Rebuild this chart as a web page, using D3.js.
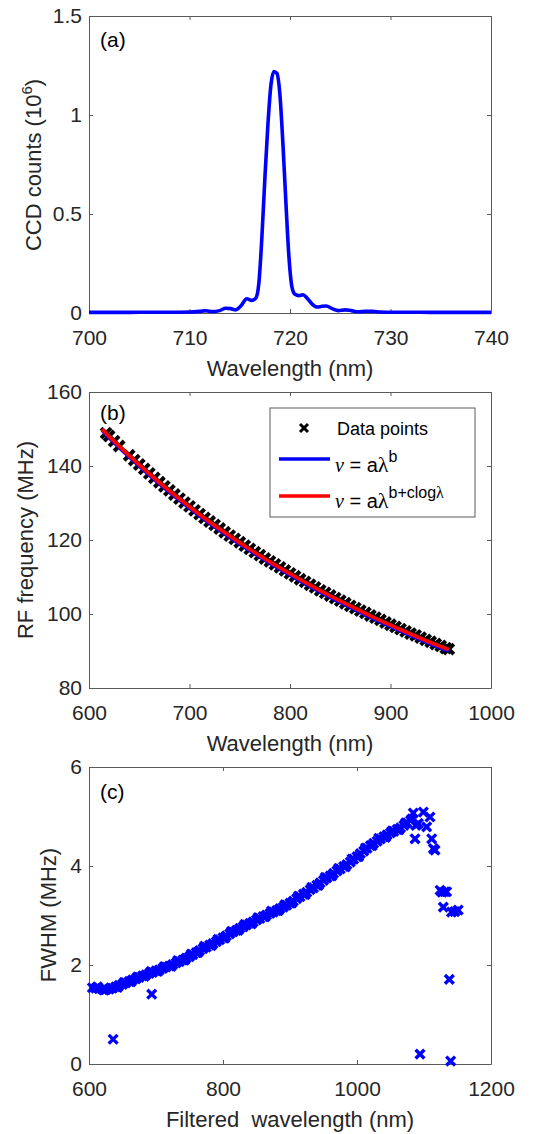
<!DOCTYPE html>
<html>
<head>
<meta charset="utf-8">
<script src="https://cdn.jsdelivr.net/npm/d3@7"></script>
<style>
  body { margin: 0; background: #fff; }
  svg { display: block; font-family: "Liberation Sans", Arial, sans-serif; }
  .axis path, .axis line { stroke: #5a5a5a; stroke-width: 1; }
  .axis text { font-size: 21px; fill: #262626; }
  .label { font-size: 22px; fill: #262626; }
  .tag { font-size: 21px; fill: #000; }
  .legend text { font-size: 18px; fill: #000; }
</style>
</head>
<body>
<svg id="chart" width="544" height="1134"></svg>
<script>
// (a) spectrum
const specWl = [700, 702, 704, 706, 708, 710, 711, 711.6, 712.3, 713, 713.6, 714.1, 714.6, 715.1, 715.7,
  716.2, 716.6, 716.9, 717.2, 717.5, 717.8, 718.1, 718.4, 718.7, 719.0, 719.3, 719.6, 719.9, 720.2,
  720.5, 720.9, 721.3, 721.7, 722.2, 722.7, 723.2, 723.6, 724.2, 724.8, 725.5, 726.1, 726.8, 727.5,
  728.2, 729, 730, 732, 734, 736, 738, 740];
const specCounts = [0.003, 0.003, 0.003, 0.004, 0.004, 0.005, 0.008, 0.011, 0.007, 0.012, 0.024, 0.022, 0.016, 0.035, 0.072,
  0.064, 0.075, 0.15, 0.38, 0.68, 0.95, 1.15, 1.22, 1.21, 1.10, 0.85, 0.55, 0.28, 0.13,
  0.095, 0.088, 0.092, 0.075, 0.045, 0.030, 0.034, 0.035, 0.022, 0.012, 0.016, 0.012, 0.006, 0.008,
  0.008, 0.005, 0.004, 0.004, 0.003, 0.003, 0.003, 0.003];

// (b) RF frequency vs wavelength
const rfWl = [617, 620, 625, 630, 640, 645, 650, 655, 660, 665, 670, 675, 680, 685, 690, 695, 700, 705, 710,
  715, 720, 725, 730, 735, 740, 745, 750, 755, 760, 765, 770, 775, 780, 785, 790, 795, 800, 805, 810,
  815, 820, 825, 830, 835, 840, 845, 850, 855, 860, 865, 870, 875, 880, 885, 890, 895, 900, 905, 910,
  915, 920, 925, 930, 935, 940, 945, 950, 955, 958];
const rfMHz = [148.9, 148.1, 146.7, 145.4, 142.9, 141.6, 140.4, 139.2, 138.0, 136.8, 135.6, 134.5, 133.4, 132.3, 131.2, 130.1, 129.1, 128.0, 127.0,
  126.0, 125.0, 124.1, 123.1, 122.1, 121.2, 120.3, 119.4, 118.5, 117.6, 116.7, 115.9, 115.0, 114.2, 113.4, 112.6, 111.8, 111.0, 110.2, 109.4,
  108.7, 107.9, 107.2, 106.4, 105.7, 105.0, 104.3, 103.6, 102.9, 102.2, 101.6, 100.9, 100.3, 99.6, 99.0, 98.4, 97.7, 97.1, 96.5, 95.9,
  95.3, 94.7, 94.2, 93.6, 93.0, 92.5, 91.9, 91.4, 90.8, 90.5];
const fitWl = [613, 620, 640, 660, 680, 700, 720, 740, 760, 780, 800, 820, 840, 860, 880, 900, 920, 940, 958];
const fitPower = [149.6, 147.5, 142.3, 137.4, 132.8, 128.5, 124.4, 120.6, 117.0, 113.6, 110.4, 107.3, 104.4, 101.7, 99.0, 96.5, 94.1, 91.8, 89.9];
const fitLogPower = [150.0, 148.0, 142.8, 137.9, 133.3, 129.0, 124.9, 121.1, 117.5, 114.1, 110.9, 107.8, 104.9, 102.2, 99.5, 97.0, 94.6, 92.3, 90.4];

// (c) FWHM vs filtered wavelength
const fwWl = [605, 610, 615, 620, 625, 630, 635, 640, 645, 650, 655, 660, 665, 670, 675, 680, 685, 690, 695, 700,
  705, 710, 715, 720, 725, 730, 735, 740, 745, 750, 755, 760, 765, 770, 775, 780, 785, 790, 795, 800,
  805, 810, 815, 820, 825, 830, 835, 840, 845, 850, 855, 860, 865, 870, 875, 880, 885, 890, 895, 900,
  905, 910, 915, 920, 925, 930, 935, 940, 945, 950, 955, 960, 965, 970, 975, 980, 985, 990, 995, 1000,
  1005, 1010, 1015, 1020, 1025, 1030, 1035, 1040, 1045, 1050, 1055, 1060, 1065, 1070, 1075, 1080,
  612.5, 622.5, 632.5, 642.5, 652.5, 662.5, 672.5, 682.5, 692.5, 702.5, 712.5, 722.5, 732.5, 742.5, 752.5, 762.5,
  772.5, 782.5, 792.5, 802.5, 812.5, 822.5, 832.5, 842.5, 852.5, 862.5, 872.5, 882.5, 892.5, 902.5, 912.5, 922.5,
  932.5, 942.5, 952.5, 962.5, 972.5, 982.5, 992.5, 1002.5, 1012.5, 1022.5, 1032.5, 1042.5, 1052.5, 1062.5, 1072.5,
  1082, 1084, 1086.6, 1088, 1091.5, 1099, 1104, 1109, 1111.5, 1114, 1116.4, 1124, 1127, 1128.8, 1131, 1133.8, 1141, 1146, 1151,
  636, 693.6, 1094, 1137.8, 1139.8];
const fwMHz = [1.54, 1.53, 1.52, 1.51, 1.50, 1.51, 1.53, 1.56, 1.59, 1.61, 1.64, 1.67, 1.70, 1.72, 1.75, 1.78, 1.80, 1.83, 1.85, 1.88,
  1.90, 1.93, 1.96, 1.98, 2.01, 2.04, 2.07, 2.10, 2.14, 2.17, 2.21, 2.25, 2.29, 2.33, 2.36, 2.40, 2.43, 2.47, 2.51, 2.55,
  2.59, 2.63, 2.67, 2.70, 2.74, 2.77, 2.81, 2.84, 2.87, 2.91, 2.94, 2.98, 3.01, 3.04, 3.07, 3.10, 3.14, 3.17, 3.21, 3.25,
  3.29, 3.34, 3.38, 3.43, 3.47, 3.52, 3.56, 3.61, 3.66, 3.71, 3.76, 3.80, 3.85, 3.90, 3.94, 3.99, 4.03, 4.08, 4.14, 4.19,
  4.25, 4.30, 4.36, 4.41, 4.46, 4.50, 4.55, 4.59, 4.63, 4.67, 4.70, 4.74, 4.77, 4.82, 4.87, 4.92,
  1.56, 1.49, 1.54, 1.55, 1.65, 1.66, 1.76, 1.77, 1.87, 1.87, 1.97, 1.97, 2.09, 2.10, 2.22, 2.25,
  2.38, 2.39, 2.52, 2.54, 2.68, 2.70, 2.82, 2.83, 2.96, 2.97, 3.09, 3.10, 3.22, 3.25, 3.39, 3.42,
  3.57, 3.61, 3.77, 3.80, 3.95, 3.98, 4.14, 4.19, 4.36, 4.41, 4.56, 4.58, 4.71, 4.73, 4.87,
  4.95, 5.07, 4.55, 4.82, 4.86, 5.09, 4.79, 4.99, 4.55, 4.35, 4.32, 3.51, 3.47, 3.17, 3.48, 3.48, 3.07, 3.08, 3.11,
  0.50, 1.41, 0.20, 1.71, 0.06];

const svg = d3.select('#chart');

// draws box, inward ticks on all four sides, labels on left/bottom
function drawPanel(box, xDomain, yDomain, xTicks, yTicks, yFormat) {
  const x = d3.scaleLinear().domain(xDomain).range([box.left, box.right]);
  const y = d3.scaleLinear().domain(yDomain).range([box.bottom, box.top]);
  const g = svg.append('g');

  g.append('g').attr('class', 'axis')
    .attr('transform', `translate(0,${box.bottom})`)
    .call(d3.axisBottom(x).tickValues(xTicks).tickSizeInner(-4).tickSizeOuter(0).tickPadding(17).tickFormat(d3.format('d')));
  g.append('g').attr('class', 'axis')
    .attr('transform', `translate(0,${box.top})`)
    .call(d3.axisTop(x).tickValues(xTicks).tickSizeInner(-4).tickSizeOuter(0).tickFormat(''));
  g.append('g').attr('class', 'axis')
    .attr('transform', `translate(${box.left},0)`)
    .call(d3.axisLeft(y).tickValues(yTicks).tickSizeInner(-4).tickSizeOuter(0).tickPadding(7).tickFormat(yFormat));
  g.append('g').attr('class', 'axis')
    .attr('transform', `translate(${box.right},0)`)
    .call(d3.axisRight(y).tickValues(yTicks).tickSizeInner(-4).tickSizeOuter(0).tickFormat(''));

  g.selectAll('.axis text').attr('font-family', null);
  return { x, y, g };
}

function crosses(g, xs, ys, x, y, color, r, w) {
  g.append('g').selectAll('path')
    .data(xs.map((d, i) => [d, ys[i]]))
    .join('path')
    .attr('d', d => {
      const cx = x(d[0]), cy = y(d[1]);
      return `M${cx - r},${cy - r}L${cx + r},${cy + r}M${cx - r},${cy + r}L${cx + r},${cy - r}`;
    })
    .attr('stroke', color)
    .attr('stroke-width', w)
    .attr('fill', 'none');
}

function yLabel(x, y, parts) {
  const t = svg.append('text').attr('class', 'label')
    .attr('text-anchor', 'middle')
    .attr('transform', `translate(${x},${y}) rotate(-90)`);
  parts(t);
}

// ---------- panel (a)
const boxA = { left: 89, right: 491, top: 16, bottom: 313 };
const pA = drawPanel(boxA, [700, 740], [0, 1.5], [700, 710, 720, 730, 740], [0, 0.5, 1, 1.5], d => String(d));
pA.g.append('path')
  .datum(specWl.map((d, i) => [d, specCounts[i]]))
  .attr('fill', 'none')
  .attr('stroke', '#0000ff')
  .attr('stroke-width', 3.6)
  .attr('stroke-linejoin', 'round')
  .attr('d', d3.line().x(d => pA.x(d[0])).y(d => pA.y(d[1])).curve(d3.curveMonotoneX));
svg.append('text').attr('class', 'tag').attr('x', 100).attr('y', 47).text('(a)');
svg.append('text').attr('class', 'label').attr('x', 290).attr('y', 376).attr('text-anchor', 'middle').text('Wavelength (nm)');
yLabel(41, 165, t => {
  t.append('tspan').text('CCD counts (10');
  t.append('tspan').attr('font-size', 15).attr('dy', -9).text('6');
  t.append('tspan').attr('dy', 9).text(')');
});

// ---------- panel (b)
const boxB = { left: 89, right: 491, top: 392, bottom: 688 };
const pB = drawPanel(boxB, [600, 1000], [80, 160], [600, 700, 800, 900, 1000], [80, 100, 120, 140, 160], d => String(d));
crosses(pB.g, rfWl, rfMHz, pB.x, pB.y, '#000', 5, 4);
const fitLine = d3.line().x(d => pB.x(d[0])).y(d => pB.y(d[1])).curve(d3.curveNatural);
pB.g.append('path')
  .datum(fitWl.map((d, i) => [d, fitPower[i]]))
  .attr('fill', 'none').attr('stroke', '#0000ff').attr('stroke-width', 3)
  .attr('d', fitLine);
pB.g.append('path')
  .datum(fitWl.map((d, i) => [d, fitLogPower[i]]))
  .attr('fill', 'none').attr('stroke', '#ff0000').attr('stroke-width', 3.8)
  .attr('d', fitLine);
svg.append('text').attr('class', 'tag').attr('x', 100).attr('y', 420).text('(b)');
svg.append('text').attr('class', 'label').attr('x', 290).attr('y', 751).attr('text-anchor', 'middle').text('Wavelength (nm)');
yLabel(33, 540, t => t.text('RF frequency (MHz)'));

// legend
const lg = svg.append('g').attr('class', 'legend');
lg.append('rect').attr('x', 270).attr('y', 408).attr('width', 205).attr('height', 109)
  .attr('fill', '#fff').attr('stroke', '#5a5a5a').attr('stroke-width', 1);
lg.append('path')
  .attr('d', 'M300,424L308,432M300,432L308,424')
  .attr('stroke', '#000').attr('stroke-width', 3);
lg.append('text').attr('x', 337).attr('y', 435).text('Data points');
lg.append('line').attr('x1', 279).attr('x2', 330).attr('y1', 459).attr('y2', 459)
  .attr('stroke', '#0000ff').attr('stroke-width', 3.6);
lg.append('line').attr('x1', 279).attr('x2', 330).attr('y1', 496).attr('y2', 496)
  .attr('stroke', '#ff0000').attr('stroke-width', 3.6);
function fitText(yb, sup) {
  const t = lg.append('text').attr('x', 335).attr('y', yb);
  t.append('tspan').attr('font-family', '"Liberation Serif", serif').attr('font-style', 'italic').attr('font-size', 20).text('ν');
  t.append('tspan').attr('font-size', 20).text(' = a');
  t.append('tspan').attr('font-family', '"Liberation Serif", serif').attr('font-size', 22).text('λ');
  const s = t.append('tspan').attr('font-size', 16).attr('dy', -10);
  sup(s);
}
fitText(472, s => s.text('b'));
fitText(508, s => {
  s.append('tspan').text('b+clog');
  s.append('tspan').attr('font-family', '"Liberation Serif", serif').text('λ');
});

// ---------- panel (c)
const boxC = { left: 89, right: 491, top: 767, bottom: 1064 };
const pC = drawPanel(boxC, [600, 1200], [0, 6], [600, 800, 1000, 1200], [0, 2, 4, 6], d => String(d));
crosses(pC.g, fwWl, fwMHz, pC.x, pC.y, '#0000ff', 4.4, 3.4);
svg.append('text').attr('class', 'tag').attr('x', 100).attr('y', 799).text('(c)');
svg.append('text').attr('class', 'label').attr('x', 290).attr('y', 1127).attr('text-anchor', 'middle')
  .style('white-space', 'pre').text('Filtered  wavelength (nm)');
yLabel(56, 915, t => t.text('FWHM (MHz)'));
</script>
</body>
</html>
